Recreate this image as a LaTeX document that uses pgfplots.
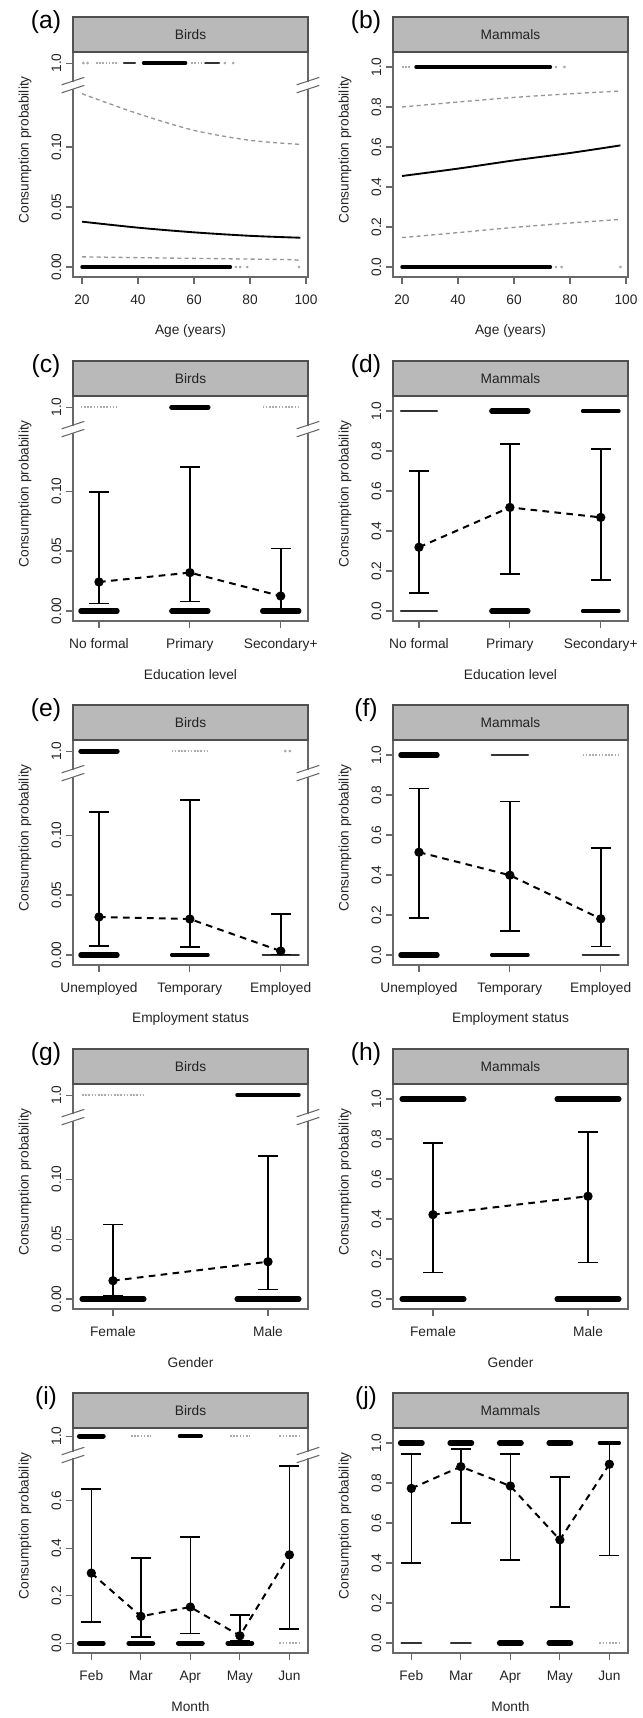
\documentclass[border=0pt]{standalone}
\usepackage{fontspec}
\setmainfont{Liberation Sans}
\usepackage{pgfplots}
\pgfplotsset{compat=1.18}
\definecolor{axgray}{RGB}{105,105,105}
\definecolor{stripfill}{RGB}{185,185,185}
\definecolor{stripdraw}{RGB}{80,80,80}
\definecolor{txt}{RGB}{35,35,35}
\definecolor{cigray}{RGB}{150,150,150}
\newcommand\rf{\fontsize{10.3}{12.4}\selectfont}
\newcommand\strip[2]{%
 \draw[stripdraw, fill=stripfill, line width=0.8pt] (rel axis cs:0,1) rectangle ([yshift=26.25pt]rel axis cs:1,1);
 \node[font=\rf, text=txt] at ([yshift=13.1pt]rel axis cs:0.5,1) {#1};
 \node[font=\fontsize{18.5}{22}\selectfont, text=black] at ([xshift=-20.25pt,yshift=22.5pt]rel axis cs:0,1) {#2};
}
\newcommand\brk[1]{%
 \fill[white] ([xshift=-2pt,yshift=-2.6pt]rel axis cs:0,#1) rectangle ([xshift=2pt,yshift=2.6pt]rel axis cs:0,#1);
 \fill[white] ([xshift=-2pt,yshift=-2.6pt]rel axis cs:1,#1) rectangle ([xshift=2pt,yshift=2.6pt]rel axis cs:1,#1);
 \draw[axgray, line width=0.8pt] ([xshift=-8.5pt,yshift=-5.8pt]rel axis cs:0,#1) -- ([xshift=8.5pt,yshift=-0.2pt]rel axis cs:0,#1);
 \draw[axgray, line width=0.8pt] ([xshift=-8.5pt,yshift=0.2pt]rel axis cs:0,#1) -- ([xshift=8.5pt,yshift=5.8pt]rel axis cs:0,#1);
 \draw[axgray, line width=0.8pt] ([xshift=-8.5pt,yshift=-5.8pt]rel axis cs:1,#1) -- ([xshift=8.5pt,yshift=-0.2pt]rel axis cs:1,#1);
 \draw[axgray, line width=0.8pt] ([xshift=-8.5pt,yshift=0.2pt]rel axis cs:1,#1) -- ([xshift=8.5pt,yshift=5.8pt]rel axis cs:1,#1);
}
\pgfplotsset{
 rbase/.style={
  scale only axis, width=176.25pt, height=168.75pt, clip=false, anchor=south west,
  axis line style={axgray, line width=0.8pt},
  every tick/.style={axgray, line width=0.8pt},
  tick align=outside, major tick length=5.25pt, tick pos=left,
  xticklabel style={font=\rf, text=txt, yshift=-4.5pt},
  yticklabel style={font=\rf, text=txt, rotate=90, anchor=south},
  every axis x label/.style={at={([yshift=-40.5pt]axis description cs:0.5,0)}, anchor=center, font=\rf, text=txt},
  every axis y label/.style={at={([xshift=-36pt,yshift=11pt]axis description cs:0,0.5)}, anchor=center, rotate=90, font=\rf, text=txt},
  ylabel={Consumption probability},
 },
 birdsy/.style={ymin=-0.00833, ymax=0.1792, ytick={0,0.05,0.1,0.17}, yticklabels={0.00,0.05,0.10,1.0}},
 mamy/.style={ymin=-0.05, ymax=1.075, ytick={0,0.2,0.4,0.6,0.8,1}, yticklabels={0.0,0.2,0.4,0.6,0.8,1.0}},
 cat3/.style={xmin=0.714, xmax=3.30, xtick={1,2,3}},
 cat2/.style={xmin=0.742, xmax=2.258, xtick={1,2}, xticklabels={Female,Male}, xlabel={Gender}},
 cat5/.style={xmin=0.63, xmax=5.376, xtick={1,2,3,4,5}, xticklabels={Feb,Mar,Apr,May,Jun}, xlabel={Month}},
 obsK/.style={black, line width=3.8pt, line cap=round},
 obsM/.style={black, line width=2.6pt, line cap=round},
 obsT/.style={black!80, line width=1.6pt, line cap=round},
 obsF/.style={gray!65, line width=1.3pt, dash pattern=on 1.2pt off 1.2pt},
 obsP/.style={only marks, mark=*, mark size=0.8pt, gray!70},
 fitS/.style={black, line width=1.4pt, smooth},
 ciS/.style={cigray, line width=1pt, dash pattern=on 3pt off 2.5pt, smooth},
 meanS/.style={black, line width=1.5pt, dash pattern=on 5pt off 4pt, mark=*, mark size=2.7pt, mark options={solid},
  error bars/y dir=both, error bars/y explicit,
  error bars/error bar style={solid, line width=1.2pt, black},
  error bars/error mark options={solid, rotate=90, mark size=7.5pt, line width=1.2pt, black}},
}
\newcommand\meanplot[1]{\addplot[meanS] table[row sep=\\, x=x, y=y, y error plus expr={\thisrow{hi}-\thisrow{y}}, y error minus expr={\thisrow{y}-\thisrow{lo}}] {#1};}
\begin{document}
\begin{tikzpicture}
\path (0,0) rectangle (480pt,-1288.5pt);
% ---------------- (a) Birds, age
\begin{axis}[rbase, birdsy, at={(54.75pt,-207.75pt)}, xmin=16.79, xmax=100.71,
  xtick={20,40,60,80,100}, xticklabels={20,40,60,80,100}, xlabel={Age (years)}]
 \strip{Birds}{(a)}
 \addplot[obsM] coordinates {(20,0) (73,0)};
 \addplot[obsP] coordinates {(75,0) (76.5,0) (79,0) (97.5,0)};
 \addplot[obsP] coordinates {(20.5,0.17) (22,0.17) (71,0.17) (74,0.17)};
 \addplot[obsF] coordinates {(25,0.17) (33,0.17)};
 \addplot[obsT] coordinates {(35,0.17) (39,0.17)};
 \addplot[obsM] coordinates {(42,0.17) (57,0.17)};
 \addplot[obsF] coordinates {(59,0.17) (63,0.17)};
 \addplot[obsT] coordinates {(64,0.17) (69,0.17)};
 \addplot[ciS] coordinates {(20,0.1444) (40,0.1278) (60,0.1139) (80,0.1056) (98,0.1022)};
 \addplot[ciS] coordinates {(20,0.0085) (40,0.0078) (60,0.0072) (80,0.0066) (96,0.0060) (98,0.004)};
 \addplot[fitS] coordinates {(20,0.0378) (40,0.0328) (60,0.0289) (80,0.026) (98,0.0244)};
 \brk{0.853}
\end{axis}
% ---------------- (b) Mammals, age
\begin{axis}[rbase, mamy, at={(294.75pt,-207.75pt)}, xmin=16.79, xmax=100.71,
  xtick={20,40,60,80,100}, xticklabels={20,40,60,80,100}, xlabel={Age (years)}]
 \strip{Mammals}{(b)}
 \addplot[obsF] coordinates {(20,1) (23,1)};
 \addplot[obsM] coordinates {(25,1) (73,1)};
 \addplot[obsP] coordinates {(75,1) (78,1)};
 \addplot[obsM] coordinates {(20,0) (73,0)};
 \addplot[obsP] coordinates {(75,0) (77,0) (98,0)};
 \addplot[ciS] coordinates {(20,0.80) (40,0.825) (60,0.848) (80,0.866) (98,0.88)};
 \addplot[ciS] coordinates {(20,0.147) (40,0.172) (60,0.198) (80,0.22) (98,0.238)};
 \addplot[fitS] coordinates {(20,0.455) (40,0.492) (60,0.533) (80,0.57) (98,0.608)};
\end{axis}
% ---------------- (c) Birds, education
\begin{axis}[rbase, birdsy, cat3, at={(54.75pt,-465.75pt)},
  xticklabels={No formal,Primary,Secondary+}, xlabel={Education level}]
 \strip{Birds}{(c)}
 \addplot[obsK] coordinates {(0.8,0) (1.2,0)};
 \addplot[obsK] coordinates {(1.8,0) (2.2,0)};
 \addplot[obsK] coordinates {(2.8,0) (3.2,0)};
 \addplot[obsF] coordinates {(0.8,0.17) (1.2,0.17)};
 \addplot[obsK] coordinates {(1.8,0.17) (2.2,0.17)};
 \addplot[obsF] coordinates {(2.8,0.17) (3.2,0.17)};
 \meanplot{x y lo hi\\ 1 0.0242 0.0064 0.0992\\ 2 0.0320 0.0078 0.1200\\ 3 0.0125 0.0010 0.0520\\}
 \brk{0.853}
\end{axis}
% ---------------- (d) Mammals, education
\begin{axis}[rbase, mamy, cat3, at={(294.75pt,-465.75pt)},
  xticklabels={No formal,Primary,Secondary+}, xlabel={Education level}]
 \strip{Mammals}{(d)}
 \addplot[obsT] coordinates {(0.8,1) (1.2,1)};
 \addplot[obsK] coordinates {(1.8,1) (2.2,1)};
 \addplot[obsM] coordinates {(2.8,1) (3.2,1)};
 \addplot[obsT] coordinates {(0.8,0) (1.2,0)};
 \addplot[obsK] coordinates {(1.8,0) (2.2,0)};
 \addplot[obsM] coordinates {(2.8,0) (3.2,0)};
 \meanplot{x y lo hi\\ 1 0.319 0.089 0.699\\ 2 0.518 0.186 0.836\\ 3 0.468 0.156 0.811\\}
\end{axis}
% ---------------- (e) Birds, employment
\begin{axis}[rbase, birdsy, cat3, at={(54.75pt,-723.75pt)},
  xticklabels={Unemployed,Temporary,Employed}, xlabel={Employment status}]
 \strip{Birds}{(e)}
 \addplot[obsK] coordinates {(0.8,0) (1.2,0)};
 \addplot[obsM] coordinates {(1.8,0) (2.2,0)};
 \addplot[obsT] coordinates {(2.8,0) (3.2,0)};
 \addplot[obsK] coordinates {(0.8,0.17) (1.2,0.17)};
 \addplot[obsF] coordinates {(1.8,0.17) (2.2,0.17)};
 \addplot[obsP] coordinates {(3.05,0.17) (3.1,0.17)};
 \meanplot{x y lo hi\\ 1 0.0317 0.0075 0.1194\\ 2 0.0300 0.0067 0.1290\\ 3 0.0033 0.0003 0.0344\\}
 \brk{0.853}
\end{axis}
% ---------------- (f) Mammals, employment
\begin{axis}[rbase, mamy, cat3, at={(294.75pt,-723.75pt)},
  xticklabels={Unemployed,Temporary,Employed}, xlabel={Employment status}]
 \strip{Mammals}{(f)}
 \addplot[obsK] coordinates {(0.8,1) (1.2,1)};
 \addplot[obsT] coordinates {(1.8,1) (2.2,1)};
 \addplot[obsF] coordinates {(2.8,1) (3.2,1)};
 \addplot[obsK] coordinates {(0.8,0) (1.2,0)};
 \addplot[obsM] coordinates {(1.8,0) (2.2,0)};
 \addplot[obsT] coordinates {(2.8,0) (3.2,0)};
 \meanplot{x y lo hi\\ 1 0.514 0.184 0.832\\ 2 0.399 0.121 0.767\\ 3 0.181 0.042 0.536\\}
\end{axis}
% ---------------- (g) Birds, gender
\begin{axis}[rbase, birdsy, cat2, at={(54.75pt,-981.75pt)}]
 \strip{Birds}{(g)}
 \addplot[obsK] coordinates {(0.8,0) (1.2,0)};
 \addplot[obsK] coordinates {(1.8,0) (2.2,0)};
 \addplot[obsF] coordinates {(0.8,0.17) (1.2,0.17)};
 \addplot[obsM] coordinates {(1.8,0.17) (2.2,0.17)};
 \meanplot{x y lo hi\\ 1 0.0153 0.0028 0.0620\\ 2 0.0311 0.0078 0.1194\\}
 \brk{0.853}
\end{axis}
% ---------------- (h) Mammals, gender
\begin{axis}[rbase, mamy, cat2, at={(294.75pt,-981.75pt)}]
 \strip{Mammals}{(h)}
 \addplot[obsK] coordinates {(0.8,1) (1.2,1)};
 \addplot[obsK] coordinates {(1.8,1) (2.2,1)};
 \addplot[obsK] coordinates {(0.8,0) (1.2,0)};
 \addplot[obsK] coordinates {(1.8,0) (2.2,0)};
 \meanplot{x y lo hi\\ 1 0.422 0.132 0.779\\ 2 0.514 0.183 0.836\\}
\end{axis}
% ---------------- (i) Birds, month
\begin{axis}[rbase, cat5, at={(54.75pt,-1239.75pt)},
  ymin=-0.0407, ymax=0.907, ytick={0,0.2,0.4,0.6,0.873}, yticklabels={0.0,0.2,0.4,0.6,1.0}]
 \strip{Birds}{(i)}
 \addplot[obsK] coordinates {(0.76,0) (1.24,0)};
 \addplot[obsK] coordinates {(1.76,0) (2.24,0)};
 \addplot[obsK] coordinates {(2.76,0) (3.24,0)};
 \addplot[obsK] coordinates {(3.76,0) (4.24,0)};
 \addplot[obsF] coordinates {(4.8,0) (5.2,0)};
 \addplot[obsK] coordinates {(0.76,0.873) (1.24,0.873)};
 \addplot[obsF] coordinates {(1.8,0.873) (2.2,0.873)};
 \addplot[obsM] coordinates {(2.78,0.873) (3.22,0.873)};
 \addplot[obsF] coordinates {(3.8,0.873) (4.2,0.873)};
 \addplot[obsF] coordinates {(4.8,0.873) (5.2,0.873)};
 \meanplot{x y lo hi\\ 1 0.296 0.091 0.649\\ 2 0.114 0.028 0.360\\ 3 0.153 0.042 0.447\\ 4 0.032 0.011 0.119\\ 5 0.373 0.060 0.746\\}
 \brk{0.88}
\end{axis}
% ---------------- (j) Mammals, month
\begin{axis}[rbase, mamy, cat5, at={(294.75pt,-1239.75pt)}]
 \strip{Mammals}{(j)}
 \addplot[obsK] coordinates {(0.78,1) (1.22,1)};
 \addplot[obsK] coordinates {(1.78,1) (2.22,1)};
 \addplot[obsK] coordinates {(2.78,1) (3.22,1)};
 \addplot[obsK] coordinates {(3.78,1) (4.22,1)};
 \addplot[obsM] coordinates {(4.8,1) (5.2,1)};
 \addplot[obsT] coordinates {(0.8,0) (1.2,0)};
 \addplot[obsT] coordinates {(1.8,0) (2.2,0)};
 \addplot[obsK] coordinates {(2.78,0) (3.22,0)};
 \addplot[obsK] coordinates {(3.78,0) (4.22,0)};
 \addplot[obsF] coordinates {(4.8,0) (5.2,0)};
 \meanplot{x y lo hi\\ 1 0.773 0.400 0.945\\ 2 0.882 0.600 0.971\\ 3 0.785 0.415 0.946\\ 4 0.516 0.180 0.829\\ 5 0.894 0.437 0.992\\}
\end{axis}
\end{tikzpicture}
\end{document}
